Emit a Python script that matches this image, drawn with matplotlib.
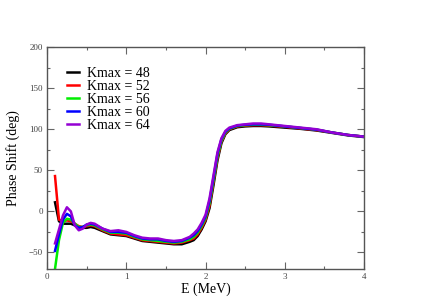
import matplotlib
matplotlib.use("Agg")
import matplotlib.pyplot as plt
from matplotlib.ticker import MultipleLocator

# Energy grid (MeV) shared by all curves
energy = [0.1, 0.15, 0.2, 0.25, 0.3, 0.35, 0.4, 0.45, 0.5, 0.55, 0.6, 0.7, 0.8,
          0.9, 1.0, 1.1, 1.2, 1.3, 1.4, 1.5, 1.6, 1.7, 1.8, 1.85, 1.9, 1.95, 2.0,
          2.05, 2.1, 2.15, 2.2, 2.25, 2.3, 2.4, 2.5, 2.6, 2.7, 2.8, 3.0, 3.2, 3.4,
          3.6, 3.8, 4.0]

# Phase shift (deg) per Kmax
kmax_48 = [11, -12, -15, -15, -15, -17, -19, -20, -20, -19, -20, -24, -28,
           -29, -30, -33, -36, -37, -38, -39, -40, -40, -37, -35, -30, -22, -12,
           4, 32, 62, 83, 94, 99, 102.5, 103.5, 104, 104, 103.5, 102, 100.5, 98.5,
           95.5, 92.5, 90.5]
kmax_52 = [43, -10, -12, -11, -12, -15, -18, -19, -18, -17, -18, -23, -27,
           -28, -29, -32, -35, -36, -37, -38, -39, -38, -35, -33, -28, -20, -10,
           7, 36, 65, 85, 95, 100, 103.5, 104.5, 105, 105, 104.5, 103, 101, 99,
           96, 93, 91]
kmax_56 = [-70, -35, -14, -9, -10, -15, -19, -19, -17, -16, -17, -22, -26,
           -26, -27, -31, -34, -35, -36, -37, -38, -37, -34, -31, -26, -18, -8,
           10, 38, 67, 86, 96, 100.5, 104, 105, 105.5, 105.5, 105, 103.5, 101.5, 99.5,
           96, 93, 91]
kmax_60 = [-48, -28, -10, -3, -6, -17, -20, -19, -16, -15, -16, -21, -25,
           -25, -26, -30, -33, -34, -34, -36, -37, -36, -32, -29, -24, -16, -6,
           13, 41, 70, 88, 97, 101, 104.5, 105.5, 106, 106, 105.5, 103.5, 101.5, 99.5,
           96, 93, 91]
kmax_64 = [-39, -22, -5, 5, 0, -17, -23, -21, -16, -14, -15, -21, -24,
           -23, -25, -29, -32, -33, -33, -35, -36, -35, -31, -27, -22, -14, -4,
           16, 44, 72, 89, 98, 102, 105, 106, 107, 107, 106, 104, 102, 100,
           96, 93, 91]

series = [
    ("Kmax = 48", kmax_48, "black"),
    ("Kmax = 52", kmax_52, "red"),
    ("Kmax = 56", kmax_56, "#00ee00"),
    ("Kmax = 60", kmax_60, "blue"),
    ("Kmax = 64", kmax_64, "#9400d3"),
]

plt.rcParams["font.family"] = ["Liberation Serif", "DejaVu Serif"]

fig = plt.figure(figsize=(4.36, 3.08), dpi=100)
ax = fig.add_axes([0.108, 0.127, 0.727, 0.72])

for label, vals, color in series:
    ax.plot(energy, vals, color=color, lw=1.8, label=label)

ax.set_xlim(0, 4)
ax.set_ylim(-70, 200)
ax.xaxis.set_major_locator(MultipleLocator(1))
ax.xaxis.set_minor_locator(MultipleLocator(0.5))
ax.yaxis.set_major_locator(MultipleLocator(50))
ax.yaxis.set_minor_locator(MultipleLocator(25))
ax.tick_params(which="both", direction="in", top=True, right=True,
               colors="#666666", labelcolor="#444444", labelsize=6.5, pad=3)
ax.tick_params(which="major", length=5, width=0.8)
ax.tick_params(which="minor", length=2.5, width=0.8)
for sp in ax.spines.values():
    sp.set_color("#555555")
    sp.set_linewidth(1.0)

ax.set_xlabel("E (MeV)", fontsize=10, labelpad=1)
ax.set_ylabel("Phase Shift (deg)", fontsize=10)
ax.yaxis.set_label_coords(-0.085, 0.5)

ax.legend(loc="upper left", bbox_to_anchor=(0.045, 0.935), frameon=False,
          fontsize=10, handlelength=0.9, handletextpad=0.55,
          labelspacing=0.0, borderaxespad=0)

fig.savefig("out.png", dpi=100)
